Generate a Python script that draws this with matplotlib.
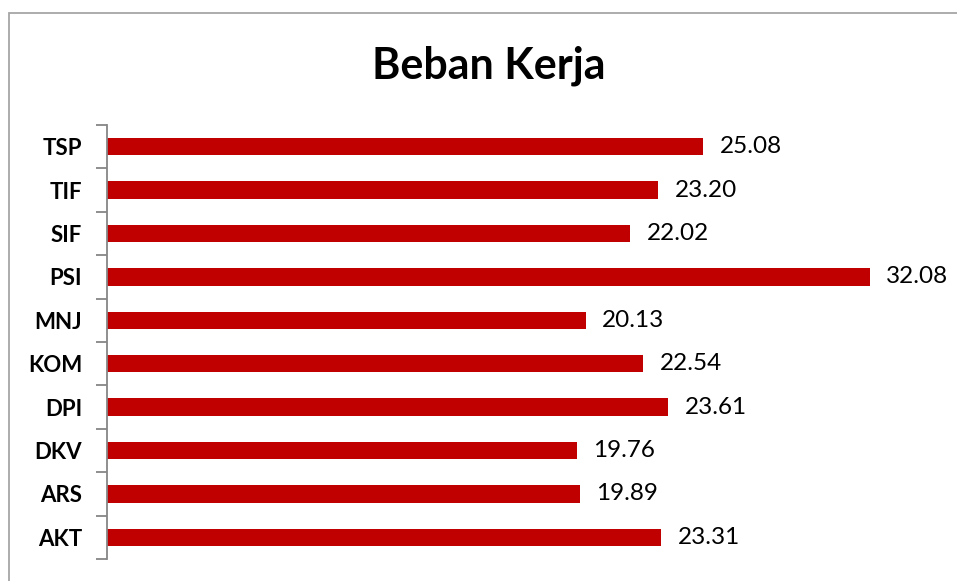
import matplotlib.pyplot as plt
from matplotlib.patches import Rectangle
import numpy as np

plt.rcParams['font.family'] = ['Lato', 'DejaVu Sans']

# data, top to bottom as in the chart
kategori = ['TSP', 'TIF', 'SIF', 'PSI', 'MNJ', 'KOM', 'DPI', 'DKV', 'ARS', 'AKT']
nilai = [25.08, 23.20, 22.02, 32.08, 20.13, 22.54, 23.61, 19.76, 19.89, 23.31]

W, H = 957, 581
fig = plt.figure(figsize=(W / 100, H / 100), dpi=100)

# chart area border (only top and left visible in the crop)
fig.add_artist(Rectangle((9 / W, -0.1), 1.2, 1 - 13 / H + 0.1,
                         transform=fig.transFigure, fill=False,
                         edgecolor='#a6a6a6', linewidth=1.3))

ax = fig.add_axes([107 / W, 1 - 559 / H, (939 - 107) / W, (559 - 125) / H])

y = np.arange(len(kategori))
bars = ax.barh(y, nilai, height=0.4, color='#c00000')
ax.bar_label(bars, labels=[f'{v:.2f}' for v in nilai], padding=12, fontsize=17.5)

ax.set_xlim(0, 35)
ax.set_ylim(len(kategori) - 0.5, -0.5)
ax.set_yticks(y)
ax.set_yticklabels(kategori, fontsize=16, fontweight='bold')
ax.set_yticks(np.arange(len(kategori) + 1) - 0.5, minor=True)
ax.tick_params(axis='y', which='major', length=0, pad=18)
ax.tick_params(axis='y', which='minor', length=8, width=1.3, color='#868686')
ax.set_xticks([])

for s in ['top', 'right', 'bottom']:
    ax.spines[s].set_visible(False)
ax.spines['left'].set_color('#868686')
ax.spines['left'].set_linewidth(1.3)

fig.text(489 / W, 1 - 78 / H, 'Beban Kerja', ha='center', va='baseline',
         fontsize=31, fontweight='bold')

fig.savefig('out.png', dpi=100)
